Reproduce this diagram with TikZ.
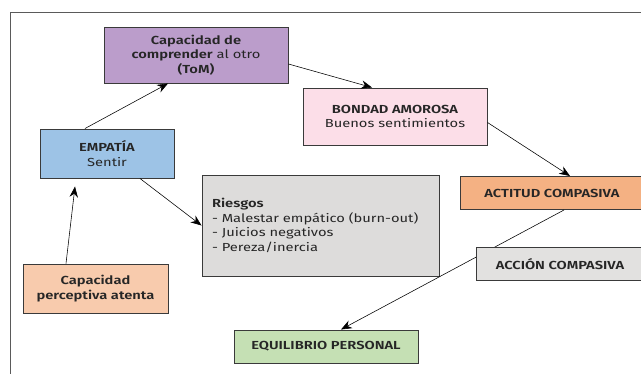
\documentclass[tikz,border=0pt]{standalone}
\usepackage{fontspec}
\setmainfont{Fira Sans}[FakeStretch=1.26, BoldFont={Fira Sans SemiBold}]
\usepackage{xcolor}
\usepackage{tikz}
\usetikzlibrary{arrows.meta}
\definecolor{ToM}{HTML}{BB9DCB}
\definecolor{Bondad}{HTML}{FCDEE8}
\definecolor{Empatia}{HTML}{9DC3E6}
\definecolor{Riesgo}{HTML}{DDDCDB}
\definecolor{Actitud}{HTML}{F4B183}
\definecolor{Accion}{HTML}{E2E1E0}
\definecolor{Percep}{HTML}{F8CBAD}
\definecolor{Equil}{HTML}{C5E0B4}
\definecolor{Borde}{HTML}{3A3A3A}
\definecolor{Marco}{HTML}{5A5A5A}
\definecolor{Texto}{HTML}{262626}
\tikzset{
  caja/.style={draw=Borde, line width=0.7pt, inner sep=0pt, align=center, text=Texto, font=\fontsize{8.3}{10.5}\selectfont},
  flecha/.style={-{Stealth[length=0.27cm, width=0.21cm]}, line width=0.4pt},
}

\begin{document}
\begin{tikzpicture}%
\useasboundingbox (0,0) rectangle (16.025000, -9.350000);%
\draw[Marco, line width=0.6pt] (16.025000, -0.300000) -- (0.250000, -0.300000) -- (0.250000, -9.350000);%
\node[caja, fill=ToM, minimum width=4.600000cm, minimum height=1.400000cm] (tom) at (4.900000, -1.375000) {\textbf{Capacidad de}\\\textbf{comprender} al otro\\\textbf{(ToM)}};%
\node[caja, fill=Bondad, minimum width=4.600000cm, minimum height=1.425000cm] (bondad) at (9.875000, -2.912500) {\textbf{BONDAD AMOROSA}\\Buenos sentimientos};%
\node[caja, fill=Empatia, minimum width=3.350000cm, minimum height=1.225000cm] (empatia) at (2.675000, -3.837500) {\textbf{EMPATÍA}\\Sentir};%
\node[caja, fill=Riesgo, text width=5.425000cm, inner xsep=0.250000cm, minimum height=2.525000cm, align=left] (riesgos) at (8.012500, -5.637500) {\textbf{Riesgos}\\- Malestar empático (burn-out)\\- Juicios negativos\\- Pereza/inercia};%
\node[caja, fill=Actitud, minimum width=4.600000cm, minimum height=0.825000cm] (actitud) at (13.800000, -4.825000) {\textbf{ACTITUD COMPASIVA}};%
\node[caja, fill=Percep, minimum width=3.625000cm, minimum height=1.225000cm] (percep) at (2.387500, -7.212500) {\textbf{Capacidad}\\\textbf{perceptiva atenta}};%
\node[caja, fill=Equil, minimum width=4.600000cm, minimum height=0.825000cm] (equil) at (8.150000, -8.662500) {\textbf{EQUILIBRIO PERSONAL}};%
\draw[flecha] ([xshift=-0.550000cm]empatia.north) -- ([xshift=-0.700000cm]tom.south);%
\draw[flecha] ([yshift=-0.225000cm]tom.east) -- ([xshift=-0.575000cm]bondad.north);%
\draw[flecha] ([yshift=-0.150000cm]bondad.east) -- ([xshift=0.450000cm]actitud.north);%
\draw[flecha] ([xshift=0.825000cm]empatia.south) -- (riesgos.west);%
\draw[flecha] ([xshift=-0.737500cm]percep.north) -- ([xshift=-0.800000cm, yshift=-0.200000cm]empatia.south);%
\draw[flecha] ([xshift=0.300000cm]actitud.south) -- ([xshift=0.375000cm]equil.north);%
\node[caja, fill=Accion, minimum width=4.200000cm, minimum height=0.825000cm] (accion) at (14.000000, -6.600000) {\textbf{ACCIÓN COMPASIVA}};%
\end{tikzpicture}
\end{document}
